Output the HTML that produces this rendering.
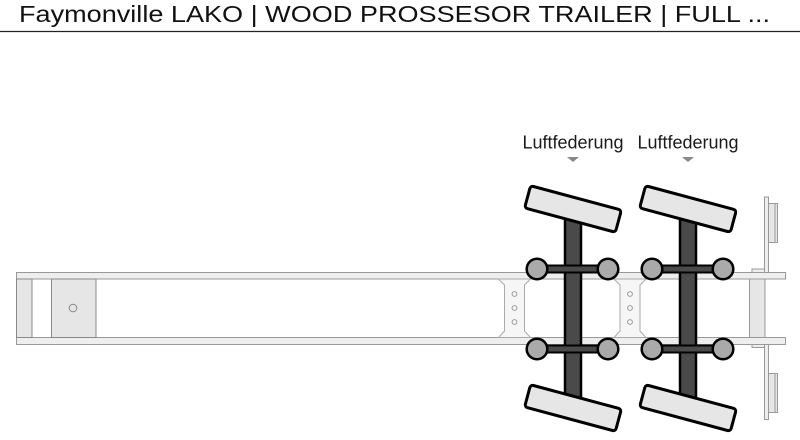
<!DOCTYPE html>
<html>
<head>
<meta charset="utf-8">
<style>
  html,body{margin:0;padding:0;background:#fff;}
  svg{display:block;}
</style>
</head>
<body>
<svg width="800" height="440" viewBox="0 0 800 440" xmlns="http://www.w3.org/2000/svg">
  <rect x="0" y="0" width="800" height="440" fill="#fff"/>
  <!-- Title -->
  <text x="19" y="22" font-family="Liberation Sans, Arial, sans-serif" font-size="23" fill="#111" textLength="751" lengthAdjust="spacingAndGlyphs">Faymonville LAKO | WOOD PROSSESOR TRAILER | FULL ...</text>
  <line x1="0" y1="31.5" x2="800" y2="31.5" stroke="#222" stroke-width="1.2"/>

  <!-- Frame rails -->
  <rect x="16.5" y="272.5" width="769" height="6.5" fill="#eeeeee" stroke="#999" stroke-width="1"/>
  <rect x="16.5" y="337.5" width="769" height="7" fill="#eeeeee" stroke="#999" stroke-width="1"/>
  <line x1="16.5" y1="279" x2="16.5" y2="337.5" stroke="#999" stroke-width="1"/>

  <!-- Left blocks -->
  <rect x="16.5" y="279" width="15.5" height="58.5" fill="#e6e6e6" stroke="#888" stroke-width="1"/>
  <rect x="51.5" y="279" width="44.5" height="58.5" fill="#e6e6e6" stroke="#888" stroke-width="1"/>
  <circle cx="73" cy="308" r="3.8" fill="none" stroke="#888" stroke-width="1"/>

  <!-- Cross members -->
  <g fill="#f6f6f6" stroke="#aaa" stroke-width="1">
    <path d="M498.5,279 L504.5,285 L504.5,331 L498.5,337.5 L530.5,337.5 L524.5,331 L524.5,285 L530.5,279 Z"/>
    <path d="M614,279 L620,285 L620,331 L614,337.5 L646,337.5 L640,331 L640,285 L646,279 Z"/>
  </g>
  <g fill="none" stroke="#999" stroke-width="1">
    <circle cx="514.5" cy="294" r="2.4"/>
    <circle cx="514.5" cy="308" r="2.4"/>
    <circle cx="514.5" cy="322" r="2.4"/>
    <circle cx="630" cy="294" r="2.4"/>
    <circle cx="630" cy="308" r="2.4"/>
    <circle cx="630" cy="322" r="2.4"/>
  </g>

  <!-- Rear end -->
  <g fill="#e6e6e6" stroke="#999" stroke-width="1">
    <rect x="749.5" y="279" width="15.5" height="58.5"/>
    <rect x="752" y="269" width="12.5" height="3.5" fill="#eee"/>
    <rect x="764.5" y="197" width="4" height="75.5" fill="#eee"/>
    <rect x="768.5" y="203.5" width="9" height="39"/>
    <line x1="775" y1="203.5" x2="775" y2="242.5"/>
    <rect x="752" y="344.5" width="12.5" height="3" fill="#eee"/>
    <rect x="764.5" y="344.5" width="4" height="75" fill="#eee"/>
    <rect x="768.5" y="373.5" width="9" height="39"/>
    <line x1="775" y1="373.5" x2="775" y2="412.5"/>
  </g>

  <!-- Axle 1 -->
  <g>
    <rect x="565" y="209" width="16" height="199" fill="#4a4a4a" stroke="#000" stroke-width="2.5"/>
    <rect x="537" y="265.5" width="71" height="7" fill="#4a4a4a" stroke="#000" stroke-width="2"/>
    <rect x="537" y="345.5" width="71" height="7" fill="#4a4a4a" stroke="#000" stroke-width="2"/>
    <g fill="#aaaaaa" stroke="#000" stroke-width="2.5">
      <circle cx="537" cy="269" r="10.3"/>
      <circle cx="608" cy="269" r="10.3"/>
      <circle cx="537" cy="349" r="10.3"/>
      <circle cx="608" cy="349" r="10.3"/>
    </g>
    <rect x="-47" y="-11.5" width="94" height="23" rx="3" transform="translate(573,209) rotate(15)" fill="#e6e6e6" stroke="#000" stroke-width="3"/>
    <rect x="-47" y="-11.5" width="94" height="23" rx="3" transform="translate(573,408) rotate(15)" fill="#e6e6e6" stroke="#000" stroke-width="3"/>
  </g>

  <!-- Axle 2 -->
  <g>
    <rect x="680" y="209" width="16" height="199" fill="#4a4a4a" stroke="#000" stroke-width="2.5"/>
    <rect x="652" y="265.5" width="71" height="7" fill="#4a4a4a" stroke="#000" stroke-width="2"/>
    <rect x="652" y="345.5" width="71" height="7" fill="#4a4a4a" stroke="#000" stroke-width="2"/>
    <g fill="#aaaaaa" stroke="#000" stroke-width="2.5">
      <circle cx="652" cy="269" r="10.3"/>
      <circle cx="723" cy="269" r="10.3"/>
      <circle cx="652" cy="349" r="10.3"/>
      <circle cx="723" cy="349" r="10.3"/>
    </g>
    <rect x="-47" y="-11.5" width="94" height="23" rx="3" transform="translate(688,209) rotate(15)" fill="#e6e6e6" stroke="#000" stroke-width="3"/>
    <rect x="-47" y="-11.5" width="94" height="23" rx="3" transform="translate(688,408) rotate(15)" fill="#e6e6e6" stroke="#000" stroke-width="3"/>
  </g>

  <!-- Labels -->
  <g font-family="Liberation Sans, Arial, sans-serif" font-size="18" fill="#1a1a1a" text-anchor="middle">
    <text x="573" y="148.5">Luftfederung</text>
    <text x="688" y="148.5">Luftfederung</text>
  </g>
  <polygon points="567,157 579,157 573,162" fill="#888"/>
  <polygon points="682,157 694,157 688,162" fill="#888"/>
</svg>
</body>
</html>
